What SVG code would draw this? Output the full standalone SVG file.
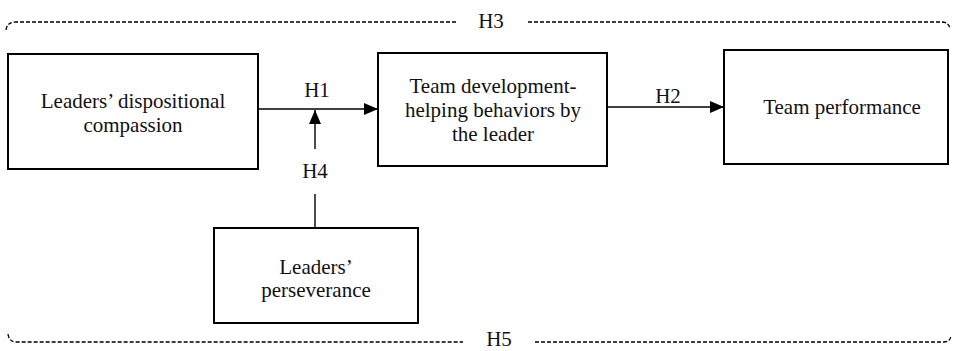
<svg xmlns="http://www.w3.org/2000/svg" width="953" height="351" viewBox="0 0 953 351">
<style>
.box{fill:#fff;stroke:#000;stroke-width:2}
.t{font-family:"Liberation Serif","Times New Roman",serif;font-size:21px;fill:#111;text-anchor:middle}
.ln{stroke:#000;stroke-width:1.4;fill:none}
.dash{stroke:#000;stroke-width:1.3;fill:none;stroke-dasharray:4 2}
</style>
<defs>
<marker id="ah2" markerWidth="14" markerHeight="12" refX="14" refY="6" orient="auto" markerUnits="userSpaceOnUse">
<path d="M0,0 L14,6 L0,12 Z" fill="#000"/>
</marker>
</defs>
<g id="connectors">
<path class="dash" d="M6,30 Q7,22 16,22 L457,22"/>
<path class="dash" d="M528,22 L942,22 Q948,22 950,28"/>
<path class="dash" d="M8,334 Q9,342 16,342 L463,342"/>
<path class="dash" d="M535,342 L944,342 Q950,342 951,336"/>
<text class="t" x="491" y="28">H3</text>
<text class="t" x="499" y="346">H5</text>
<line class="ln" x1="258" y1="109" x2="378" y2="109" marker-end="url(#ah2)"/>
<text class="t" x="317" y="97">H1</text>
<line class="ln" x1="607" y1="107" x2="724" y2="107" marker-end="url(#ah2)"/>
<text class="t" x="668" y="103">H2</text>
<line class="ln" x1="315" y1="149" x2="315" y2="110" marker-end="url(#ah2)"/>
<text class="t" x="315" y="178">H4</text>
<line class="ln" x1="315" y1="194" x2="315" y2="228"/>
</g>
<g id="compassion">
<rect class="box" x="8" y="54" width="250" height="115"/>
<text class="t" x="133" y="108">Leaders’ dispositional</text>
<text class="t" x="133" y="132">compassion</text>
</g>
<g id="helping">
<rect class="box" x="378" y="53" width="229" height="113"/>
<text class="t" x="493" y="93">Team development-</text>
<text class="t" x="493" y="117">helping behaviors by</text>
<text class="t" x="493" y="141">the leader</text>
</g>
<g id="performance">
<rect class="box" x="724" y="50" width="224" height="114"/>
<text class="t" x="842" y="114">Team performance</text>
</g>
<g id="perseverance">
<rect class="box" x="214" y="228" width="204" height="95"/>
<text class="t" x="316" y="274">Leaders’</text>
<text class="t" x="316" y="297">perseverance</text>
</g>
</svg>
